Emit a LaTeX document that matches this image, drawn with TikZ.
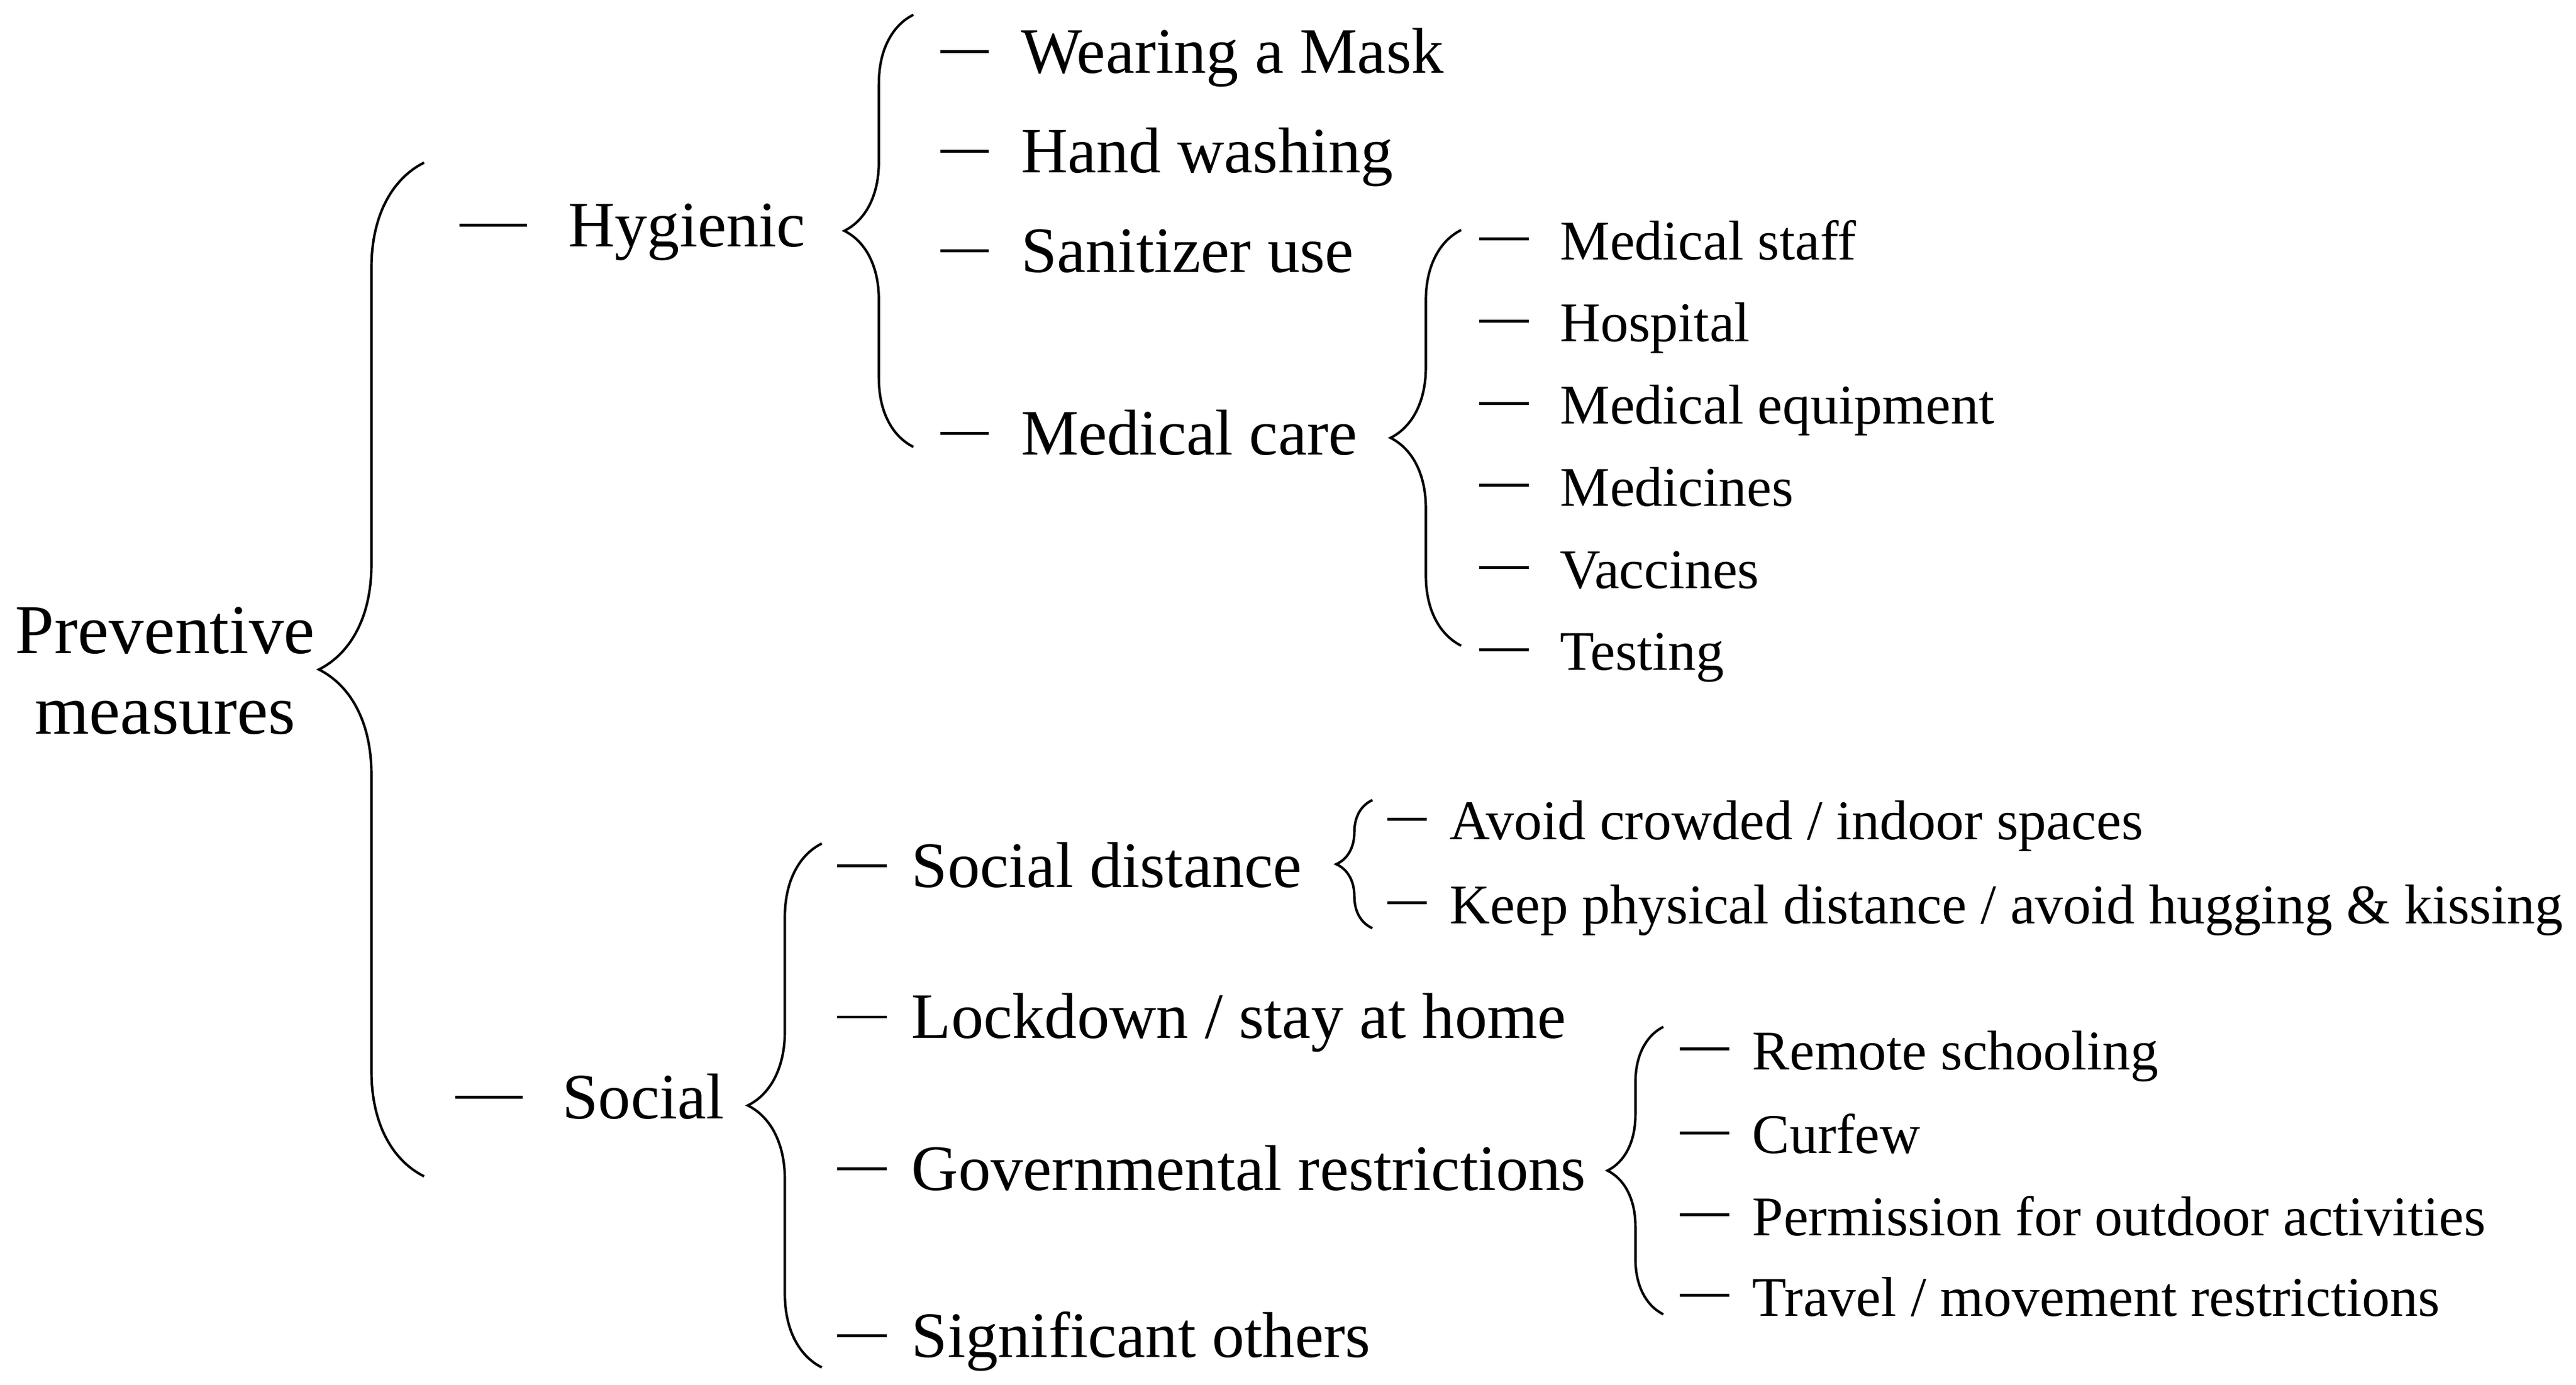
\documentclass[tikz,border=0pt]{standalone}
\usepackage{fontspec}
\setmainfont{Liberation Serif}
\usetikzlibrary{decorations.pathreplacing}
\tikzset{
  root/.style={align=center, inner sep=0pt, font=\fontsize{42.6}{49}\selectfont},
  topic/.style={anchor=base west, inner ysep=0pt, inner xsep=#1, text height=26pt, text depth=0pt, font=\fontsize{39.4}{47}\selectfont},
  detail/.style={anchor=base west, inner ysep=0pt, inner xsep=#1, text height=25pt, text depth=0pt, font=\fontsize{34.1}{40}\selectfont},
  tick/.style={line width=1.8pt},
  curly/.style={decorate, decoration={brace, amplitude=#1}, line width=1.5pt}
}
\newcommand{\topic}[1]{\node[topic=#1]}
\newcommand{\detail}[1]{\node[detail=#1]}

\begin{document}
\begin{tikzpicture}[x=1pt, y=-1pt]
  \useasboundingbox (0,0) rectangle (1567.3,843);
  \node[root] (prev) at (100.5,408.5) {Preventive\\measures};

  % first level
  \topic{25pt} (hyg) at (320.5,150) {Hygienic};
  \topic{24pt} (soc) at (318,681) {Social};

  % hygienic
  \topic{19.5pt} (mask) at (601.5,44.4) {Wearing a Mask};
  \topic{19.5pt} (hand) at (601.5,105.2) {Hand washing};
  \topic{19.5pt} (sani) at (601.5,165.7) {Sanitizer use};
  \topic{19.5pt} (care) at (601.5,276.8) {Medical care};

  \detail{19pt} (staff) at (930,158) {Medical staff};
  \detail{19pt} (hosp) at (930,208) {Hospital};
  \detail{19pt} (equip) at (930,258) {Medical equipment};
  \detail{19pt} (medi) at (930,308) {Medicines};
  \detail{19pt} (vacc) at (930,358) {Vaccines};
  \detail{19pt} (test) at (930,408) {Testing};

  % social
  \topic{15pt} (dist) at (539.5,540) {Social distance};
  \topic{15pt} (lock) at (539.5,632) {Lockdown / stay at home};
  \topic{15pt} (gov) at (539.5,724.5) {Governmental restrictions};
  \topic{15pt} (others) at (539.5,826) {Significant others};

  \detail{14pt} (crowd) at (868,511) {Avoid crowded / indoor spaces};
  \detail{14pt} (keep) at (868,562) {Keep physical distance / avoid hugging \& kissing};

  \detail{14pt} (school) at (1052,651) {Remote schooling};
  \detail{14pt} (curfew) at (1052,702) {Curfew};
  \detail{14pt} (outdoor) at (1052,752) {Permission for outdoor activities};
  \detail{14pt} (travel) at (1052,801) {Travel / movement restrictions};

  % brace ends
  \coordinate (prevB) at (258,716);   \coordinate (prevT) at (258,99);
  \coordinate (hygB) at (555.7,272);  \coordinate (hygT) at (555.7,9);
  \coordinate (careB) at (889,393);   \coordinate (careT) at (889,140);
  \coordinate (socB) at (500,832.3);  \coordinate (socT) at (500,513.4);
  \coordinate (distB) at (835,565);   \coordinate (distT) at (835,487);
  \coordinate (govB) at (1012,800);   \coordinate (govT) at (1012,625);

  \draw[curly=64] (prevB) -- (prevT);
  \draw[curly=42] (hygB) -- (hygT);
  \draw[curly=43] (careB) -- (careT);
  \draw[curly=45] (socB) -- (socT);
  \draw[curly=22] (distB) -- (distT);
  \draw[curly=34] (govB) -- (govT);

  % dashes
  \draw[tick] (hyg.west) -- ++(-41,0);
  \draw[tick] (soc.west) -- ++(-41,0);
  \draw[tick] (mask.west) -- ++(-29.5,0);
  \draw[tick] (hand.west) -- ++(-29.5,0);
  \draw[tick] (sani.west) -- ++(-29.5,0);
  \draw[tick] (care.west) -- ++(-29.5,0);
  \draw[tick] (staff.west) -- ++(-30,0);
  \draw[tick] (hosp.west) -- ++(-30,0);
  \draw[tick] (equip.west) -- ++(-30,0);
  \draw[tick] (medi.west) -- ++(-30,0);
  \draw[tick] (vacc.west) -- ++(-30,0);
  \draw[tick] (test.west) -- ++(-30,0);
  \draw[tick] (dist.west) -- ++(-30,0);
  \draw[tick] (lock.west) -- ++(-30,0);
  \draw[tick] (gov.west) -- ++(-30,0);
  \draw[tick] (others.west) -- ++(-30,0);
  \draw[tick] (crowd.west) -- ++(-24,0);
  \draw[tick] (keep.west) -- ++(-24,0);
  \draw[tick] (school.west) -- ++(-30,0);
  \draw[tick] (curfew.west) -- ++(-30,0);
  \draw[tick] (outdoor.west) -- ++(-30,0);
  \draw[tick] (travel.west) -- ++(-30,0);
\end{tikzpicture}
\end{document}
